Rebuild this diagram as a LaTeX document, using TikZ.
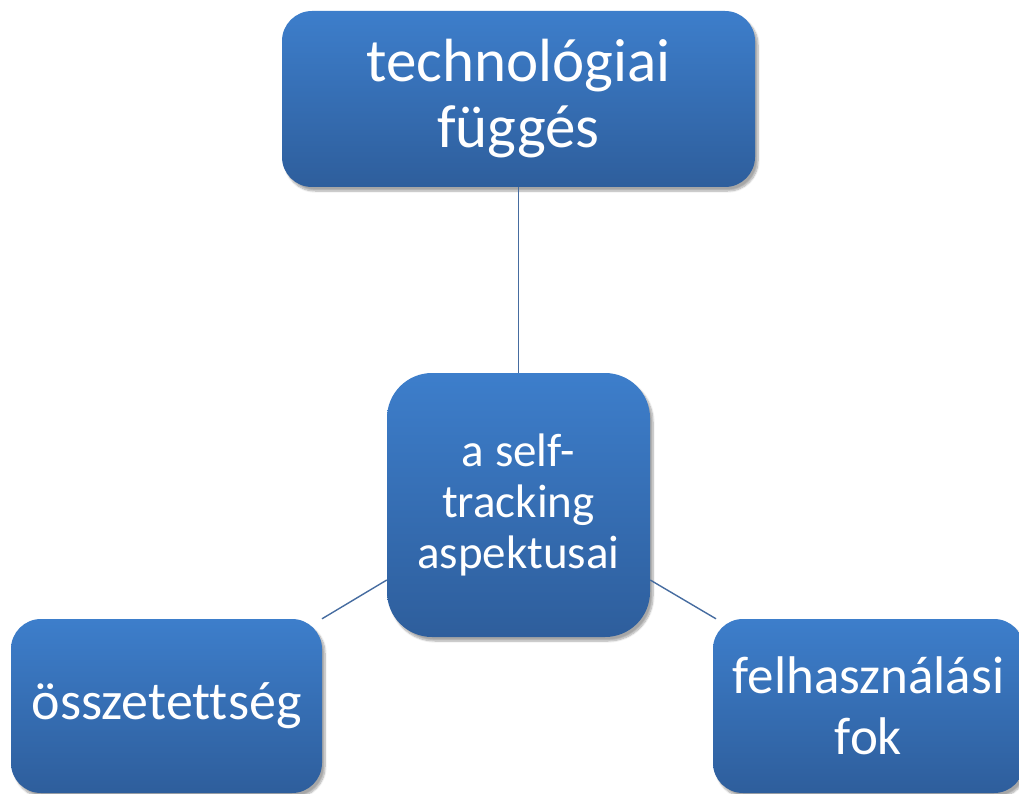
\documentclass[tikz,border=0pt]{standalone}
\usepackage{fontspec}
\setmainfont[Ligatures=CommonOff]{Carlito}
\usetikzlibrary{shadows.blur}
\definecolor{boxtop}{RGB}{61,126,203}
\definecolor{boxbot}{RGB}{46,94,156}
\definecolor{linkcol}{RGB}{70,108,160}
\tikzset{
  aspect/.style={rounded corners=30pt, top color=boxtop, bottom color=boxbot,
    draw=none, text=white, align=center, inner sep=0pt,
    blur shadow={shadow xshift=3pt, shadow yshift=-4pt, shadow blur steps=8, shadow opacity=35}},
  link/.style={draw=linkcol, line width=1.4pt}
}
\begin{document}
\begin{tikzpicture}[x=1pt,y=-1pt]
\useasboundingbox (0,0) rectangle (1019,794);
\clip (0,0) rectangle (1019,794);
\node[aspect, minimum width=473pt, minimum height=176pt, font=\fontsize{61}{66}\selectfont]
  (tech) at (518.5,99) {technológiai\\függés};
\node[aspect, rounded corners=45pt, minimum width=263pt, minimum height=264pt, font=\fontsize{47}{51}\selectfont]
  (core) at (518.5,505) {a self-\\tracking\\aspektusai};
\node[aspect, minimum width=311pt, minimum height=174pt, font=\fontsize{54}{60}\selectfont]
  (comp) at (166.5,706) {összetettség};
\node[aspect, minimum width=311pt, minimum height=174pt, font=\fontsize{53}{61}\selectfont]
  (use) at (868.5,706) {felhasználási\\fok};
\draw[link] (tech.south) -- (core.north);
\draw[link] (core.west |- 0,580) -- (comp.north east -| 322,0);
\draw[link] (core.east |- 0,580) -- (use.north west -| 716,0);
\end{tikzpicture}
\end{document}
